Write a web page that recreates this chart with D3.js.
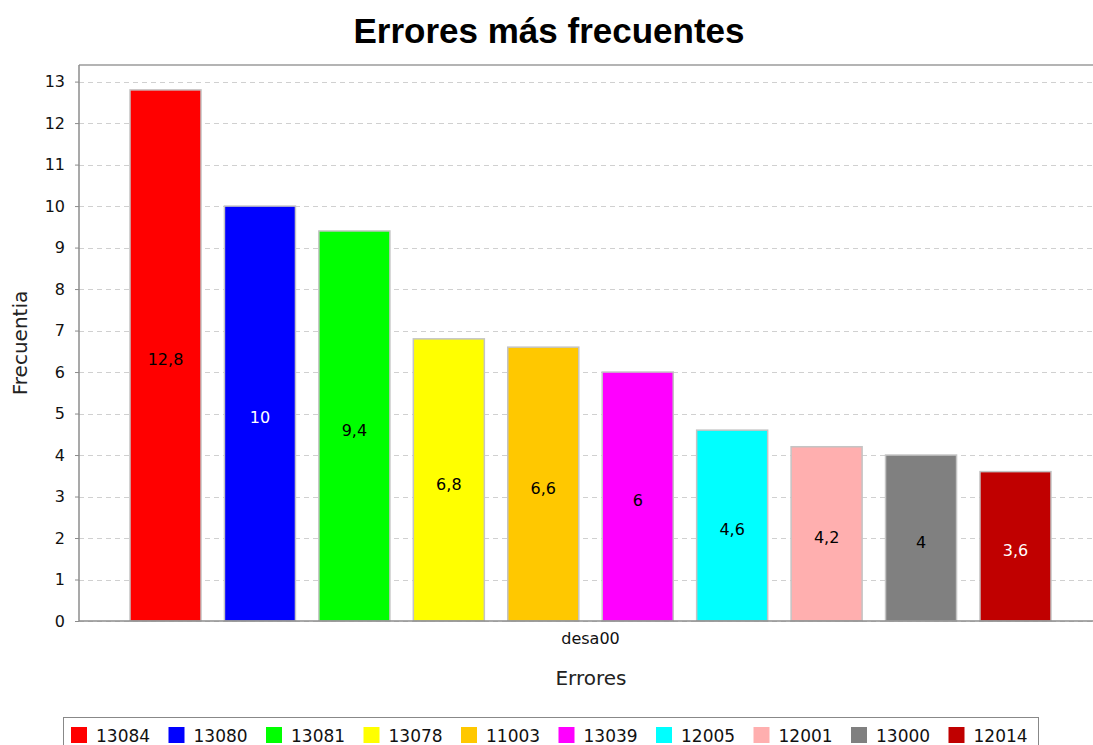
<!DOCTYPE html>
<html>
<head>
<meta charset="utf-8">
<script src="https://cdn.jsdelivr.net/npm/d3@7"></script>
<style>
  html, body { margin: 0; padding: 0; background: #ffffff; overflow: hidden; }
  svg { display: block; }
</style>
</head>
<body>
<svg id="chart" width="1093" height="745"></svg>
<script>
// Error codes (one series each, all in the single category "desa00")
const codes = ["13084", "13080", "13081", "13078", "11003", "13039", "12005", "12001", "13000", "12014"];
const frequencies = [12.8, 10, 9.4, 6.8, 6.6, 6, 4.6, 4.2, 4, 3.6];
const valueLabels = ["12,8", "10", "9,4", "6,8", "6,6", "6", "4,6", "4,2", "4", "3,6"];
const barColors = ["#ff0000", "#0000ff", "#00ff00", "#ffff00", "#ffc800", "#ff00ff", "#00ffff", "#ffafaf", "#808080", "#c00000"];
const labelColors = ["#000", "#fff", "#000", "#000", "#000", "#000", "#000", "#000", "#000", "#fff"];
const category = "desa00";
const yTicks = [0, 1, 2, 3, 4, 5, 6, 7, 8, 9, 10, 11, 12, 13];

const titleText = "Errores más frecuentes";
const xTitle = "Errores";
const yTitle = "Frecuentia";

const svg = d3.select("#chart");
const plot = { left: 79, right: 1102, top: 65, bottom: 621 };
const categoryMargin = 51;

const x = d3.scaleBand()
  .domain(codes)
  .range([plot.left + categoryMargin, plot.right - categoryMargin])
  .paddingInner(0.248)
  .paddingOuter(0);

const y = d3.scaleLinear()
  .domain([0, 13.4])
  .range([plot.bottom, plot.top]);

const sans = "'DejaVu Sans', sans-serif";

// Title
svg.append("text")
  .attr("x", 549).attr("y", 43)
  .attr("text-anchor", "middle")
  .attr("font-family", "'Liberation Sans', Arial, sans-serif")
  .attr("font-weight", "bold")
  .attr("font-size", 35)
  .attr("fill", "#000")
  .text(titleText);

// Horizontal dashed gridlines
svg.append("g")
  .selectAll("line")
  .data(yTicks)
  .join("line")
  .attr("x1", plot.left).attr("x2", plot.right)
  .attr("y1", d => Math.round(y(d)) + 0.5).attr("y2", d => Math.round(y(d)) + 0.5)
  .attr("stroke", "#d0d0d0")
  .attr("stroke-width", 1)
  .attr("stroke-dasharray", "5,4");

// Plot top outline
svg.append("line")
  .attr("x1", plot.left).attr("x2", plot.right)
  .attr("y1", plot.top).attr("y2", plot.top)
  .attr("stroke", "#b4b4b4").attr("stroke-width", 2);

// Bars
svg.append("g")
  .selectAll("rect")
  .data(frequencies)
  .join("rect")
  .attr("x", (d, i) => x(codes[i]))
  .attr("y", d => y(d))
  .attr("width", x.bandwidth())
  .attr("height", d => y(0) - y(d))
  .attr("fill", (d, i) => barColors[i])
  .attr("stroke", "#c4c4c4")
  .attr("stroke-width", 1.5);

// Value labels, centred inside each bar
svg.append("g")
  .selectAll("text")
  .data(frequencies)
  .join("text")
  .attr("x", (d, i) => x(codes[i]) + x.bandwidth() / 2)
  .attr("y", d => y(d / 2) + 4)
  .attr("dy", "0.35em")
  .attr("text-anchor", "middle")
  .attr("font-family", sans)
  .attr("font-size", 16)
  .attr("fill", (d, i) => labelColors[i])
  .text((d, i) => valueLabels[i]);

// Y axis
const yAxis = svg.append("g")
  .attr("transform", `translate(${plot.left},0)`)
  .call(d3.axisLeft(y).tickValues(yTicks).tickFormat(d3.format("d")).tickSize(4).tickPadding(10));
yAxis.select(".domain").attr("stroke", "#8c8c8c").attr("stroke-width", 1.5)
  .attr("d", `M0,${plot.top}V${plot.bottom}`);
yAxis.selectAll(".tick line").attr("stroke", "#8c8c8c");
yAxis.selectAll(".tick text").attr("font-family", sans).attr("font-size", 16).attr("fill", "#111");

// X axis (single category)
const xCat = d3.scaleBand().domain([category]).range([plot.left + categoryMargin, plot.right - categoryMargin]);
const xAxis = svg.append("g")
  .attr("transform", `translate(0,${plot.bottom})`)
  .call(d3.axisBottom(xCat).tickSize(0).tickPadding(12));
xAxis.select(".domain").attr("stroke", "#8c8c8c").attr("stroke-width", 1.5)
  .attr("d", `M${plot.left},0H${plot.right}`);
xAxis.selectAll(".tick text").attr("font-family", sans).attr("font-size", 16).attr("fill", "#111");

// Axis titles
svg.append("text")
  .attr("x", (plot.left + plot.right) / 2 + 0.5).attr("y", 685)
  .attr("text-anchor", "middle")
  .attr("font-family", sans).attr("font-size", 20).attr("fill", "#222")
  .text(xTitle);

svg.append("text")
  .attr("transform", `translate(27,${(plot.top + plot.bottom) / 2 + 0}) rotate(-90)`)
  .attr("text-anchor", "middle")
  .attr("font-family", sans).attr("font-size", 20).attr("fill", "#222")
  .text(yTitle);

// Legend
const legend = { left: 63, right: 1038, top: 717 };
svg.append("rect")
  .attr("x", legend.left + 0.5).attr("y", legend.top + 0.5)
  .attr("width", legend.right - legend.left).attr("height", 60)
  .attr("fill", "#fff").attr("stroke", "#888").attr("stroke-width", 1);

const legendX = d3.scaleBand().domain(codes).range([legend.left + 8, legend.right + 8]);
const items = svg.append("g").selectAll("g")
  .data(codes)
  .join("g")
  .attr("transform", d => `translate(${legendX(d)},0)`);
items.append("rect")
  .attr("x", 0).attr("y", 727)
  .attr("width", 16).attr("height", 16)
  .attr("fill", (d, i) => barColors[i]);
items.append("text")
  .attr("x", 25).attr("y", 742)
  .attr("font-family", sans).attr("font-size", 17).attr("fill", "#111")
  .text(d => d);
</script>
</body>
</html>
